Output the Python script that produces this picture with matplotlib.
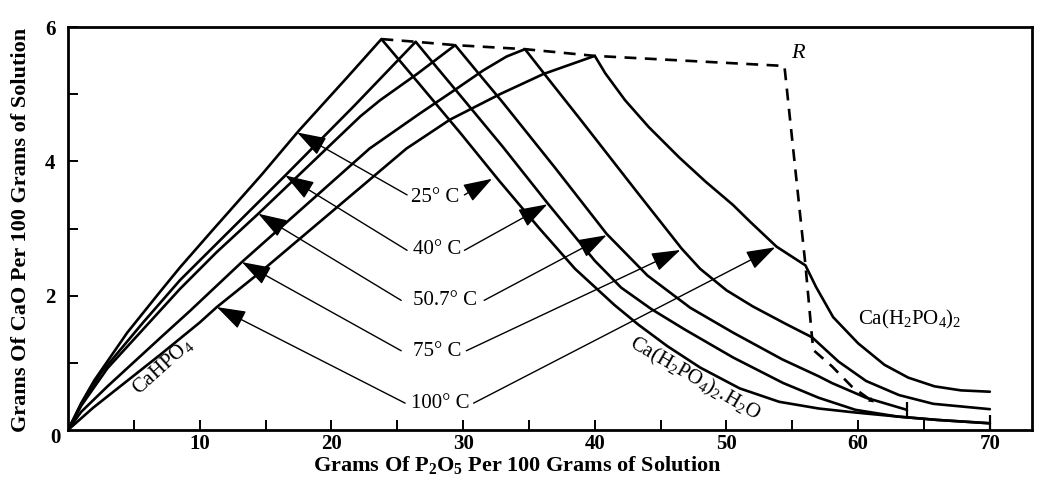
import matplotlib
matplotlib.use('Agg')
import matplotlib.pyplot as plt

plt.rcParams['font.family'] = ['Liberation Serif', 'DejaVu Serif']
plt.rcParams['mathtext.fontset'] = 'custom'
plt.rcParams['mathtext.rm'] = 'Liberation Serif'
plt.rcParams['mathtext.it'] = 'Liberation Serif:italic'
plt.rcParams['mathtext.bf'] = 'Liberation Serif:bold'

# ---- data (x: g P2O5 / 100 g, y: g CaO / 100 g) ----
temps = ['25° C', '40° C', '50.7° C', '75° C', '100° C']

x25 = [0, 1.0, 2.0, 4.5, 7.0, 8.5, 11.0, 14.7, 17.5, 21.2, 23.8,
       26.0, 29.8, 32.7, 35.8, 38.5, 41.5, 43.3, 45.5, 48.0, 51.0, 54.0,
       57.0, 59.8, 63.0, 66.0, 70.0]
y25 = [0, 0.40, 0.74, 1.45, 2.06, 2.42, 2.98, 3.8, 4.45, 5.25, 5.82,
       5.31, 4.42, 3.72, 3.0, 2.4, 1.86, 1.57, 1.25, 0.93, 0.62, 0.42,
       0.32, 0.26, 0.2, 0.15, 0.1]

x40 = [0, 1.0, 2.5, 5.7, 8.5, 10.5, 16.5, 21.7, 26.4,
       28.0, 30.0, 33.0, 36.4, 40.0, 42.0, 44.3, 46.8, 50.5, 54.3, 57.0,
       59.8, 63.0, 66.0, 70.0]
y40 = [0, 0.38, 0.85, 1.6, 2.23, 2.62, 3.79, 4.82, 5.78,
       5.4, 4.93, 4.22, 3.38, 2.52, 2.12, 1.8, 1.5, 1.08, 0.7, 0.48,
       0.3, 0.2, 0.15, 0.1]

x50 = [0, 1.0, 3.0, 5.8, 8.5, 11.3, 14.45, 22.2, 23.7, 26.5, 29.4,
       31.0, 33.0, 37.0, 40.9, 44.0, 47.25, 50.5, 54.25, 57.0, 58.0,
       60.6, 63.7]
y50 = [0, 0.36, 0.92, 1.52, 2.1, 2.65, 3.22, 4.67, 4.91, 5.3, 5.73,
       5.35, 4.88, 3.9, 2.92, 2.3, 1.82, 1.45, 1.05, 0.8, 0.7,
       0.48, 0.3]

x75 = [0, 1.0, 3.0, 7.0, 9.3, 13.2, 22.9, 26.7, 29.5, 31.5, 33.3, 34.7,
       36.5, 39.0, 43.3, 46.6, 48.0, 50.0, 52.0, 54.5, 56.5, 58.5, 60.6,
       63.1, 65.7, 70.0]
y75 = [0, 0.27, 0.65, 1.37, 1.78, 2.5, 4.19, 4.71, 5.08, 5.35, 5.56, 5.67,
       5.22, 4.6, 3.52, 2.7, 2.4, 2.08, 1.84, 1.58, 1.38, 1.02, 0.73,
       0.52, 0.39, 0.31]

x100 = [0, 1.9, 7.0, 10.0, 11.3, 14.6, 25.7, 29.0, 32.8, 36.1, 40.0,
        40.8, 42.3, 44.1, 46.4, 48.4, 50.5, 51.8, 53.8, 56.0, 56.8, 58.1,
        60.0, 62.0, 63.8, 65.8, 67.8, 70.0]
y100 = [0, 0.33, 1.12, 1.6, 1.83, 2.35, 4.19, 4.62, 5.0, 5.3, 5.57,
        5.31, 4.91, 4.51, 4.06, 3.70, 3.35, 3.1, 2.73, 2.45, 2.13, 1.68,
        1.29, 0.97, 0.78, 0.65, 0.59, 0.57]

# dashed boundary through invariant points and R
xdash = [23.8, 26.4, 29.4, 34.7, 40.0, 54.4, 56.0, 56.5, 56.6, 58.0, 59.5, 61.2]
ydash = [5.82, 5.78, 5.73, 5.67, 5.57, 5.42, 2.45, 1.37, 1.19, 0.95, 0.65, 0.41]

# temperature labels and their arrows
label_x = [27.9, 28.0, 28.6, 28.0, 28.3]
label_y = [3.46, 2.68, 1.93, 1.17, 0.39]
left_tail_x = [25.75, 25.75, 25.3, 25.3, 25.6]
left_tail_y = [3.5, 2.675, 1.93, 1.18, 0.40]
left_tip_x = [17.4, 16.5, 14.45, 13.2, 11.3]
left_tip_y = [4.43, 3.79, 3.22, 2.5, 1.83]
right_tail_x = [30.1, 30.1, 31.6, 30.25, 30.8]
right_tail_y = [3.5, 2.675, 1.93, 1.18, 0.40]
right_tip_x = [32.2, 36.4, 40.9, 46.5, 53.7]
right_tip_y = [3.74, 3.36, 2.9, 2.68, 2.72]

xticks = [10, 20, 30, 40, 50, 60, 70]
xminor = [5, 15, 25, 35, 45, 55, 65]
yticks = [2, 4, 6]
yminor = [1, 3, 5]

# ---- figure ----
fig = plt.figure(figsize=(10.38, 4.8), dpi=100)
ax = fig.add_axes([68 / 1038, 1 - 430 / 480, 964 / 1038, 403 / 480])
ax.set_xlim(0, 73.2)
ax.set_ylim(0, 6.0)

lw_curve = 1.9
for xs, ys in [(x25, y25), (x40, y40), (x50, y50), (x75, y75), (x100, y100)]:
    ax.plot(xs, ys, color='black', lw=lw_curve, solid_joinstyle='round',
            solid_capstyle='round')

# end bars
ax.plot([x50[-1]], [y50[-1]], marker='|', ms=11, mew=1.6, color='black')
ax.plot([x40[-1]], [y40[-1]], marker='|', ms=11, mew=1.6, color='black')

# dashed line
ax.plot(xdash, ydash, color='black', lw=1.9, ls=(0, (4.5, 3.2)))
ax.annotate('', xy=(xdash[-1], ydash[-1]), xytext=(xdash[-2], ydash[-2]),
            arrowprops=dict(arrowstyle='-|>', lw=0, color='black',
                            mutation_scale=10, shrinkA=0, shrinkB=0))

# temperature labels + arrows
for i, t in enumerate(temps):
    ax.text(label_x[i], label_y[i], t, ha='center', va='center', fontsize=15)
    for tail, tip in [((left_tail_x[i], left_tail_y[i]), (left_tip_x[i], left_tip_y[i])),
                      ((right_tail_x[i], right_tail_y[i]), (right_tip_x[i], right_tip_y[i]))]:
        ax.annotate('', xy=tip, xytext=tail,
                    arrowprops=dict(arrowstyle='-|>,head_length=0.9,head_width=0.3',
                                    lw=1.0, color='black', mutation_scale=20,
                                    shrinkA=0, shrinkB=0))

# phase labels
ax.text(7.2, 0.95, r'CaHPO$_4$', rotation=42, ha='center', va='center', fontsize=15)
ax.text(47.6, 0.76, r'Ca(H$_2$PO$_4$)$_2$.H$_2$O', rotation=-30, ha='center',
        va='center', fontsize=15, rotation_mode='anchor')
ax.text(63.9, 1.65, r'Ca(H$_2$PO$_4$)$_2$', ha='center', va='center', fontsize=15)
ax.text(55.4, 5.6, 'R', ha='center', va='center', fontsize=16, style='italic')

# axes styling
for s in ax.spines.values():
    s.set_linewidth(2.0)
ax.set_xticks(xticks)
ax.set_xticks(xminor, minor=True)
ax.set_yticks(yticks)
ax.set_yticks(yminor, minor=True)
ax.set_xticklabels([str(v) for v in xticks], fontweight='bold')
ax.set_yticklabels([str(v) for v in yticks], fontweight='bold')
ax.tick_params(which='both', direction='in', length=7, width=1.4)
ax.tick_params(axis='x', labelsize=15, pad=3)
ax.tick_params(axis='y', labelsize=15, pad=9)
ax.annotate('0', xy=(0, 0), xytext=(-9, -6), textcoords='offset points',
            ha='center', va='center', fontsize=15, fontweight='bold')

fig.text(517 / 1038, 1 - 465 / 480, r'Grams Of P$_\mathbf{2}$O$_\mathbf{5}$ Per 100 Grams of Solution',
         ha='center', va='center', fontsize=16, fontweight='bold')
fig.text(21 / 1038, 1 - 230 / 480, 'Grams Of CaO Per 100 Grams of Solution',
         ha='center', va='center', fontsize=16, rotation=90, fontweight='bold')

fig.savefig('out.png', dpi=100)
